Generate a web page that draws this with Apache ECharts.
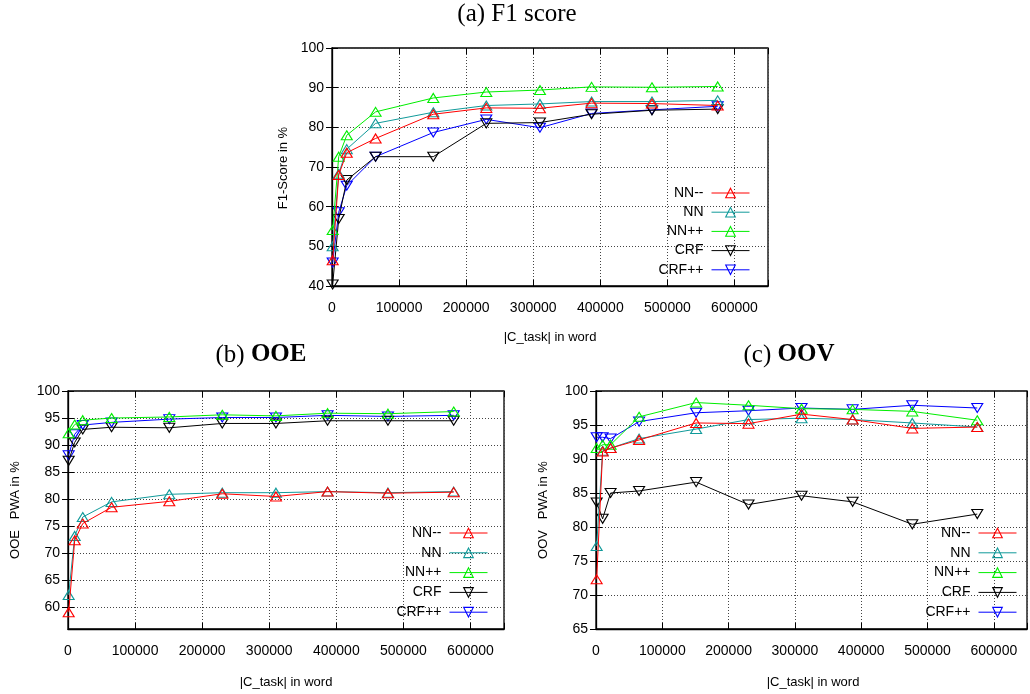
<!DOCTYPE html>
<html>
<head>
<meta charset="utf-8">
<script src="https://cdn.jsdelivr.net/npm/echarts@6/dist/echarts.min.js"></script>
<style>
  html, body { margin: 0; padding: 0; background: #fff; }
  #main { width: 1030px; height: 694px; }
</style>
</head>
<body>
<div id="main"></div>
<script>
// corpus size |C_task| (words) for each run
var taskWords = [1000, 10000, 22000, 65000, 151000, 230000, 310000, 387000, 477000, 575000];
var xTickMax = 600000;

// (a) F1 score
var f1NNminus = [46.5, 68.0, 73.6, 77.2, 83.3, 84.9, 84.8, 86.1, 86.0, 85.5];
var f1NN      = [50.0, 68.3, 74.5, 81.0, 83.8, 85.5, 85.9, 86.5, 86.5, 86.8];
var f1NNplus  = [54.1, 72.6, 78.0, 83.9, 87.4, 88.9, 89.4, 90.2, 90.1, 90.3];
var f1CRF     = [40.4, 56.9, 66.7, 72.6, 72.6, 81.0, 81.2, 83.3, 84.3, 84.6];
var f1CRFplus = [45.9, 58.6, 65.3, 72.6, 78.7, 82.0, 79.9, 83.5, 84.4, 85.3];

// (b) OOE PWA
var ooeNNminus = [59.1, 72.4, 75.5, 78.5, 79.6, 81.0, 80.5, 81.4, 81.1, 81.3];
var ooeNN      = [62.3, 73.2, 76.7, 79.5, 80.9, 81.2, 81.2, 81.4, 81.2, 81.4];
var ooeNNplus  = [92.2, 93.8, 94.6, 95.0, 95.2, 95.6, 95.4, 95.9, 95.8, 96.2];
var ooeCRF     = [87.1, 90.5, 92.9, 93.3, 93.2, 94.0, 94.0, 94.5, 94.5, 94.5];
var ooeCRFplus = [88.1, 92.0, 93.7, 94.2, 94.8, 95.1, 95.1, 95.5, 95.3, 95.5];

// (c) OOV PWA
var oovNNminus = [72.3, 91.1, 91.6, 92.8, 95.3, 95.2, 96.6, 95.8, 94.5, 94.7];
var oovNN      = [77.2, 91.2, 91.6, 93.0, 94.4, 95.8, 96.0, 95.8, 95.3, 94.7];
var oovNNplus  = [91.6, 92.1, 92.1, 96.2, 98.3, 97.9, 97.4, 97.3, 97.0, 95.7];
var oovCRF     = [83.6, 81.2, 85.0, 85.3, 86.6, 83.3, 84.6, 83.7, 80.4, 81.9];
var oovCRFplus = [93.2, 93.2, 93.0, 95.5, 96.8, 97.1, 97.5, 97.3, 97.9, 97.5];

var seriesNames = ['NN--', 'NN', 'NN++', 'CRF', 'CRF++'];
var seriesColors = ['#ff0000', '#109a9a', '#00ee00', '#000000', '#0000ff'];

var panels = [
  { values: [f1NNminus, f1NN, f1NNplus, f1CRF, f1CRFplus], ymin: 40, ymax: 100, ystep: 10,
    grid: { left: 332, top: 48, width: 436, height: 238 } },
  { values: [ooeNNminus, ooeNN, ooeNNplus, ooeCRF, ooeCRFplus], ymin: 56, ymax: 100, ystep: 5,
    grid: { left: 68, top: 391, width: 436, height: 238 } },
  { values: [oovNNminus, oovNN, oovNNplus, oovCRF, oovCRFplus], ymin: 65, ymax: 100, ystep: 5,
    grid: { left: 596, top: 391, width: 436, height: 238 } }
];

var tickFont = { color: '#000', fontSize: 14, fontFamily: 'Liberation Sans' };
var dotted = { show: true, lineStyle: { color: '#444', type: [1, 2], width: 1 } };

function yTickValues(p) {
  var out = [];
  var start = Math.ceil(p.ymin / p.ystep) * p.ystep;
  for (var v = start; v <= p.ymax; v += p.ystep) out.push(v);
  return out;
}

var grids = [], xAxes = [], yAxes = [], series = [];
panels.forEach(function (p, i) {
  grids.push(Object.assign({ show: true, borderColor: '#000', borderWidth: 1.3 }, p.grid));
  var yt = yTickValues(p);
  // bottom axis with labels
  xAxes.push({
    type: 'value', gridIndex: i, min: 0, max: 650000, interval: 100000,
    axisLine: { show: true, lineStyle: { color: '#000', width: 1.3 } },
    axisTick: { show: true, inside: true, length: 6, lineStyle: { color: '#000' } },
    axisLabel: Object.assign({
      margin: 15,
      formatter: function (v) { return v > xTickMax ? '' : String(v); }
    }, tickFont),
    splitLine: dotted
  });
  // top mirror ticks
  xAxes.push({
    type: 'value', gridIndex: i, position: 'top', min: 0, max: 650000, interval: 100000,
    axisLine: { show: false },
    axisTick: { show: true, inside: true, length: 6, lineStyle: { color: '#000' } },
    axisLabel: { show: false }, splitLine: { show: false }
  });
  yAxes.push({
    type: 'value', gridIndex: i, min: p.ymin, max: p.ymax,
    axisLine: { show: true, lineStyle: { color: '#000', width: 1.3 } },
    axisTick: { show: true, inside: true, length: 6, lineStyle: { color: '#000' }, customValues: yt },
    axisLabel: Object.assign({ margin: 8, customValues: yt }, tickFont),
    splitLine: dotted
  });
  yAxes.push({
    type: 'value', gridIndex: i, position: 'right', min: p.ymin, max: p.ymax,
    axisLine: { show: false },
    axisTick: { show: true, inside: true, length: 6, lineStyle: { color: '#000' }, customValues: yt },
    axisLabel: { show: false }, splitLine: { show: false }
  });
  p.values.forEach(function (vals, k) {
    var down = k >= 3;
    series.push({
      name: seriesNames[k],
      type: 'line',
      xAxisIndex: i * 2,
      yAxisIndex: i * 2,
      data: taskWords.map(function (x, j) { return [x, vals[j]]; }),
      symbol: 'triangle',
      symbolSize: [11, 9],
      symbolRotate: down ? 180 : 0,
      lineStyle: { color: seriesColors[k], width: 1 },
      itemStyle: { color: 'rgba(0,0,0,0)', borderColor: seriesColors[k], borderWidth: 1.1 },
      emphasis: { disabled: true },
      z: 10 - k
    });
  });
});

function legendAt(right, top, gap) {
  return {
    orient: 'vertical', align: 'right', right: right, top: top, padding: 0,
    itemWidth: 38, itemHeight: 12, itemGap: gap,
    data: seriesNames,
    itemStyle: { borderWidth: 1.1 },
    lineStyle: { width: 1 },
    textStyle: { color: '#000', fontSize: 14, fontFamily: 'Liberation Sans', padding: [0, 3, 0, 0] },
    selectedMode: false
  };
}

var nameFont = { fill: '#000', fontSize: 13, fontFamily: 'Liberation Sans', align: 'center', verticalAlign: 'middle' };
function txt(x, y, text, rot) {
  return { type: 'text', x: x, y: y, rotation: rot || 0, style: Object.assign({ text: text }, nameFont) };
}
function title(x, y, letter, bold) {
  return {
    type: 'text', x: x, y: y,
    style: {
      text: '{n|' + letter + ' }{b|' + bold + '}',
      align: 'center', verticalAlign: 'middle',
      rich: {
        n: { fontFamily: 'Liberation Serif', fontSize: 25, fill: '#000' },
        b: { fontFamily: 'Liberation Serif', fontSize: 25, fontWeight: 'bold', fill: '#000' }
      }
    }
  };
}

var chart = echarts.init(document.getElementById('main'));
chart.setOption({
  animation: false,
  backgroundColor: '#fff',
  grid: grids,
  xAxis: xAxes,
  yAxis: yAxes,
  legend: [legendAt(280, 186, 5.2), legendAt(542, 526, 5.8), legendAt(13, 526, 5.8)],
  series: series,
  graphic: [
    {
      type: 'text', x: 517, y: 14,
      style: { text: '(a) F1 score', fontFamily: 'Liberation Serif', fontSize: 25, fill: '#000', align: 'center', verticalAlign: 'middle' }
    },
    title(261, 355, '(b)', 'OOE'),
    title(789, 355, '(c)', 'OOV'),
    txt(283, 168, 'F1-Score in %', Math.PI / 2),
    txt(550, 337, '|C_task| in word'),
    txt(15, 510, 'OOE   PWA in %', Math.PI / 2),
    txt(286, 682, '|C_task| in word'),
    txt(543, 510, 'OOV   PWA in %', Math.PI / 2),
    txt(813, 682, '|C_task| in word')
  ]
});
</script>
</body>
</html>
